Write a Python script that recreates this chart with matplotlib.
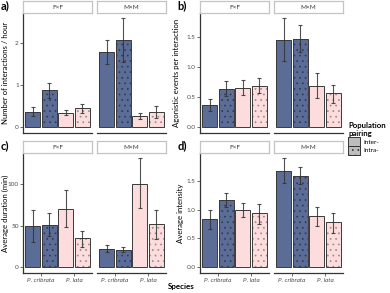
import numpy as np
import matplotlib
matplotlib.use("Agg")
import matplotlib.pyplot as plt
from matplotlib.patches import Patch

plt.rcParams['font.family'] = ['Lato', 'DejaVu Sans']
plt.rcParams['hatch.linewidth'] = 0.5

# bar order inside each facet: cribrata inter, cribrata intra, lata inter, lata intra
facets = ['F×F', 'M×M']
species = ['P. cribrata', 'P. lata']
pairing = ['Inter-', 'Intra-']

# panel a) Number of interactions / hour
a_mean = {'F×F': [0.37, 0.87, 0.34, 0.45], 'M×M': [1.78, 2.07, 0.26, 0.37]}
a_lo = {'F×F': [0.27, 0.69, 0.29, 0.33], 'M×M': [1.50, 1.55, 0.19, 0.21]}
a_hi = {'F×F': [0.47, 1.05, 0.40, 0.56], 'M×M': [2.05, 2.57, 0.33, 0.51]}

# panel b) Agonistic events per interaction
b_mean = {'F×F': [0.37, 0.63, 0.65, 0.69], 'M×M': [1.44, 1.46, 0.69, 0.56]}
b_lo = {'F×F': [0.27, 0.52, 0.53, 0.57], 'M×M': [1.09, 1.24, 0.48, 0.40]}
b_hi = {'F×F': [0.47, 0.76, 0.78, 0.82], 'M×M': [1.80, 1.69, 0.89, 0.70]}

# panel c) Average duration (min)
c_mean = {'F×F': [49.5, 51, 70.5, 35.5], 'M×M': [22.6, 21.4, 100.5, 51.6]}
c_lo = {'F×F': [31, 38, 49, 25], 'M×M': [18, 18, 71, 34.5]}
c_hi = {'F×F': [69, 65.5, 93, 44], 'M×M': [27, 24.6, 131, 68.7]}

# panel d) Average intensity
d_mean = {'F×F': [0.83, 1.17, 0.99, 0.94], 'M×M': [1.67, 1.59, 0.89, 0.78]}
d_lo = {'F×F': [0.67, 1.05, 0.87, 0.76], 'M×M': [1.46, 1.44, 0.71, 0.60]}
d_hi = {'F×F': [1.00, 1.29, 1.11, 1.10], 'M×M': [1.89, 1.75, 1.05, 0.95]}

blue = '#5b6c96'
pink = '#fcdcdc'
bar_colors = [blue, blue, pink, pink]
dot_colors = [None, '#2e3a55', None, '#9a8a8a']

W, H = 390, 293
fig = plt.figure(figsize=(W / 100, H / 100), dpi=100)


def px(x0, y0, x1, y1):
    return [x0 / W, 1 - y1 / H, (x1 - x0) / W, (y1 - y0) / H]


def draw_panel(letter, ylabel, means, lows, highs, yticks, yfmt, left, top, ylab_x, bottom_labels):
    ymax = max(max(highs[f]) for f in facets) * 1.05
    ymin = -0.05 * ymax
    facet_x = [(left, left + 69), (left + 74, left + 143)]
    for k, f in enumerate(facets):
        x0, x1 = facet_x[k]
        ax = fig.add_axes(px(x0, top + 12, x1, top + 132))
        xs = np.arange(4)
        for i in xs:
            ax.bar(i, means[f][i], width=0.92, color=bar_colors[i], edgecolor='none', zorder=2)
            if dot_colors[i]:
                ax.bar(i, means[f][i], width=0.92, fill=False, hatch='...',
                       edgecolor=dot_colors[i], linewidth=0, zorder=2.5)
            ax.bar(i, means[f][i], width=0.92, fill=False, edgecolor='#3a3a3a',
                   linewidth=0.7, zorder=3)
        m = np.array(means[f])
        ax.errorbar(xs, m, yerr=[m - np.array(lows[f]), np.array(highs[f]) - m],
                    fmt='none', ecolor='#333333', alpha=0.85, elinewidth=0.8,
                    capsize=1.6, capthick=0.8, zorder=4)
        ax.set_xlim(-0.6, 3.6)
        ax.set_ylim(ymin, ymax)
        for s in ['top', 'right']:
            ax.spines[s].set_visible(False)
        for s in ['bottom', 'left']:
            ax.spines[s].set_color('#333333')
            ax.spines[s].set_linewidth(0.9)
        ax.set_yticks(yticks)
        ax.set_yticklabels([yfmt.format(v) for v in yticks])
        ax.tick_params(axis='y', length=2, width=0.6, color='#555555',
                       labelsize=4.6, labelcolor='#4d4d4d', pad=1)
        if bottom_labels:
            ax.set_xticks([0.5, 2.5])
            ax.set_xticklabels(species, style='italic')
            ax.tick_params(axis='x', length=2, width=0.6, color='#555555',
                           labelsize=4.6, labelcolor='#4d4d4d', pad=1.5)
        else:
            ax.set_xticks([])
        if k == 1:
            ax.spines['left'].set_visible(False)
            ax.set_yticks([])
        # facet strip
        sax = fig.add_axes(px(x0, top, x1, top + 12))
        sax.set_xticks([])
        sax.set_yticks([])
        for s in sax.spines.values():
            s.set_color('#c4c4c4')
            s.set_linewidth(0.9)
        sax.text(0.5, 0.45, f, ha='center', va='center', fontsize=4.6, color='#333333',
                 transform=sax.transAxes)
    fig.text(ylab_x / W, 1 - (top + 72) / H, ylabel, rotation=90, fontsize=5.6,
             ha='center', va='center')
    fig.text((left - 23) / W + 0.001, 1 - (top + 5) / H, letter, fontsize=8,
             fontweight='bold', ha='left', va='center')


draw_panel('a)', 'Number of interactions / hour', a_mean, a_lo, a_hi,
           [0, 1, 2], '{:g}', 23, 1, 6, False)
draw_panel('b)', 'Agonistic events per interaction', b_mean, b_lo, b_hi,
           [0, 0.5, 1.0, 1.5], '{:.1f}', 200, 1, 177, False)
draw_panel('c)', 'Average duration (min)', c_mean, c_lo, c_hi,
           [0, 50, 100], '{:g}', 23, 141, 5, True)
draw_panel('d)', 'Average intensity', d_mean, d_lo, d_hi,
           [0, 0.5, 1.0, 1.5], '{:.1f}', 200, 141, 180, True)

fig.text(181 / W, 1 - 287 / H, 'Species', fontsize=5.8, fontweight='bold',
         ha='center', va='center')

handles = [Patch(facecolor='#bdbdbd', edgecolor='#333333', linewidth=0.7),
           Patch(facecolor='#bdbdbd', edgecolor='#333333', linewidth=0.7, hatch='...')]
leg = fig.legend(handles, pairing, loc='upper left', bbox_to_anchor=(347 / W, 1 - 121 / H),
                 frameon=False, fontsize=4.6, title='Population\npairing',
                 title_fontproperties={'weight': 'bold', 'size': 5.6},
                 handlelength=1.8, handleheight=1.7, labelspacing=0.0,
                 handletextpad=0.5, borderpad=0.2, borderaxespad=0, alignment='left')

fig.savefig('out.png', dpi=100)
